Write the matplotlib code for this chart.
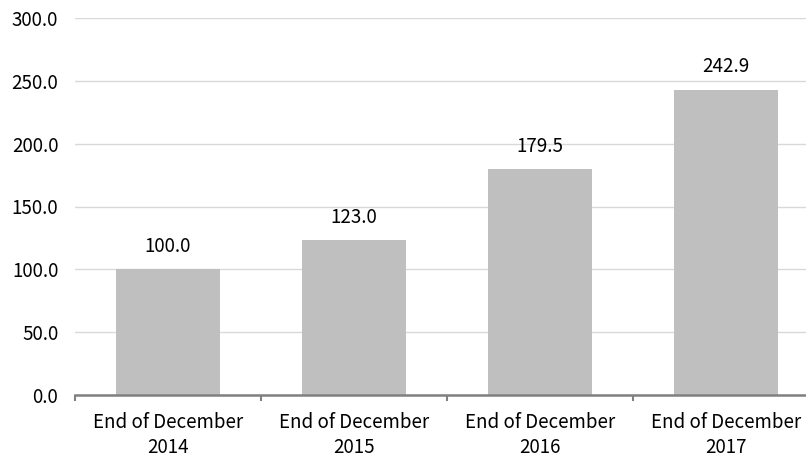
import matplotlib.pyplot as plt
import numpy as np

# data
categories = ["End of December\n2014", "End of December\n2015",
              "End of December\n2016", "End of December\n2017"]
values = [100.0, 123.0, 179.5, 242.9]
yticks = [0, 50, 100, 150, 200, 250, 300]

plt.rcParams['font.family'] = ['Noto Sans CJK JP', 'DejaVu Sans']
FS = 13.5

fig = plt.figure(figsize=(8.06, 4.57), dpi=100)
ax = fig.add_axes([75 / 806, 62 / 457, 744 / 806, 377 / 457])

x = np.arange(len(categories))
bars = ax.bar(x, values, width=0.555, color="#bfbfbf", zorder=3)

for xi, v in zip(x, values):
    ax.annotate(f"{v:.1f}", (xi, v), xytext=(0, 9), textcoords="offset points",
                ha="center", va="bottom", fontsize=FS, color="#000000")

ax.set_xlim(-0.5, len(categories) - 0.5)
ax.set_ylim(0, 300)
ax.set_yticks(yticks)
ax.set_yticklabels([f"{t:.1f}" for t in yticks], fontsize=FS)
ax.yaxis.grid(True, color="#d9d9d9", linewidth=1.0, zorder=0)
ax.tick_params(axis="y", length=0, pad=12)

ax.set_xticks(x)
ax.set_xticklabels(categories, fontsize=FS, linespacing=1.25)
ax.set_xticks(np.arange(len(categories) + 1) - 0.5, minor=True)
ax.tick_params(axis="x", which="major", length=0, pad=12)
ax.tick_params(axis="x", which="minor", length=4, width=1.5, color="#808080")

for s in ["top", "right", "left"]:
    ax.spines[s].set_visible(False)
ax.spines["bottom"].set_color("#808080")
ax.spines["bottom"].set_linewidth(1.8)
ax.spines["bottom"].set_zorder(4)

fig.savefig("out.png", dpi=100)
